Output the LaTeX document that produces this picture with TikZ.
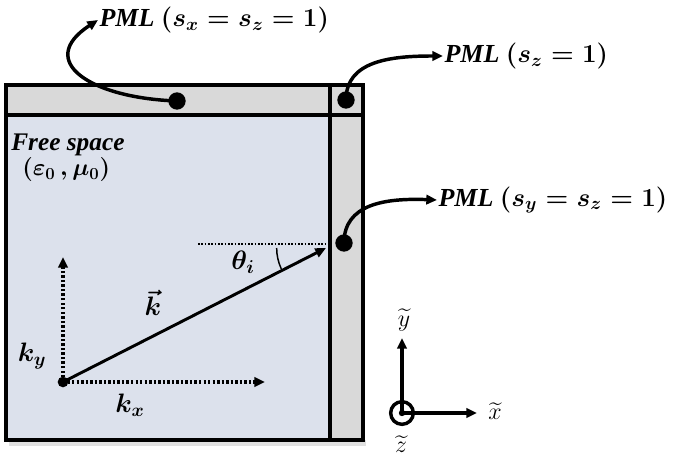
\RequirePackage{fix-cm}
\documentclass[tikz,border=0pt]{standalone}
\usepackage{amsmath}
\usepackage{fontspec}
\setmainfont{Liberation Serif}
\usetikzlibrary{arrows.meta}
\definecolor{freefill}{RGB}{220,225,236}
\definecolor{pmlfill}{RGB}{217,217,217}
\tikzset{
	dot/.style={circle, fill=black, inner sep=0pt, minimum size=13pt},
	pml/.style={inner sep=1pt, anchor=west, font=\fontsize{19.5}{22}\selectfont\boldmath\bfseries\itshape},
	lab/.style={inner sep=1pt, font=\fontsize{20}{22}\selectfont\boldmath\bfseries\itshape},
	axlab/.style={inner sep=0pt, font=\fontsize{18}{20}\selectfont},
	tip/.style={-{Triangle[length=8pt,width=7pt]}},
	dots/.style={line width=2.6pt, dash pattern=on 1.8pt off 1.6pt},
}
\begin{document}
\begin{tikzpicture}[x=0.75pt, y=0.75pt]
	\useasboundingbox (0,0) rectangle (677,456);
	% regions
	\fill[black!12] (9,10) rectangle (366,16);
	\fill[freefill] (6,16) rectangle (330,341);
	\fill[pmlfill] (6,341) rectangle (363,371);
	\fill[pmlfill] (330,16) rectangle (363,341);
	\draw[line width=3pt] (6,16) rectangle (363,371);
	\draw[line width=3pt] (6,341) -- (363,341);
	\draw[line width=3pt] (330,16) -- (330,371);
	% PML labels
	\node[dot] (d1) at (177,355) {};
	\node[dot] (d2) at (346,356) {};
	\node[dot] (d3) at (344,213) {};
	\node[pml] (p1) at (98,436) {PML $(s_x = s_z = 1)$};
	\node[pml] (p2) at (443,400) {PML $(s_z = 1)$};
	\node[pml] (p3) at (437,256) {PML $(s_y = s_z = 1)$};
	\draw[line width=2.6pt, tip] (d1.center) .. controls (90,358) and (35,395) .. (p1.west);
	\draw[line width=2.6pt, tip] (d2.center) .. controls (346,395) and (390,400) .. (p2.west);
	\draw[line width=2.6pt, tip] (d3.center) .. controls (344,252) and (385,258) .. (p3.west);
	\node[anchor=west, inner sep=0pt, font=\fontsize{19}{21}\selectfont\bfseries\itshape] (fs) at (11,311) {Free space};
	\node[anchor=west, inner sep=0pt, font=\fontsize{18}{20}\selectfont\boldmath] (mat) at (22,286) {$(\varepsilon_0\,, \mu_0)$};
	% wave vector
	\node[circle, fill=black, inner sep=0pt, minimum size=8pt] (O) at (63,74) {};
	\coordinate (ky) at (63,199);
	\coordinate (kx) at (265,74);
	\coordinate (K) at (326,208);
	\coordinate (H) at (198,212);
	\draw[dots, tip] (O.center) -- (ky);
	\draw[dots, tip] (O.center) -- (kx);
	\draw[line width=2.2pt, tip] (O.center) -- (K);
	\draw[line width=1.4pt, dash pattern=on 1.3pt off 1.2pt] (H) -- (K |- H);
	\draw[line width=1.1pt] (K) ++(180:37pt) arc (180:205:37pt);
	\node[lab] (th) at (243,194) {$\theta_i$};
	\node[lab] (kv) at (153,153) {$\vec{k}$};
	\node[lab] (kyl) at (32,100) {$k_y$};
	\node[lab] (kxl) at (130,51) {$k_x$};
	% axes
	\node[circle, draw, line width=2.6pt, inner sep=0pt, minimum size=17pt] (Z) at (402,43) {};
	\fill (Z.center) circle (2.4pt);
	\coordinate (Y) at (402,118);
	\coordinate (X) at (477,43);
	\draw[line width=2.4pt, tip] (Z.center) -- (Y);
	\draw[line width=2.4pt, tip] (Z.center) -- (X);
	\node[axlab] (yl) at (404,136) {$\widetilde{y}$};
	\node[axlab] (xl) at (495,45) {$\widetilde{x}$};
	\node[axlab] (zl) at (401,12) {$\widetilde{z}$};
\end{tikzpicture}
\end{document}
